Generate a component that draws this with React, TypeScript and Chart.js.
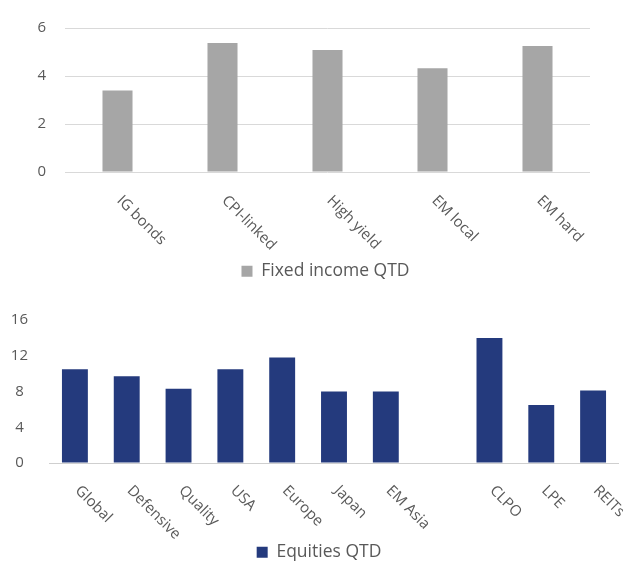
import React, { useEffect, useRef } from 'react';
import { Chart, registerables } from 'chart.js';

Chart.register(...registerables);

const fixedIncomeLabels = ['IG bonds', 'CPI-linked', 'High yield', 'EM local', 'EM hard'];
const fixedIncomeValues = [3.4, 5.37, 5.08, 4.32, 5.25];
const fixedIncomeTicks = [0, 2, 4, 6];
const fixedIncomeSeries = 'Fixed income QTD';

const equityLabels = ['Global', 'Defensive', 'Quality', 'USA', 'Europe', 'Japan', 'EM Asia', '', 'CLPO', 'LPE', 'REITs'];
const equityValues: (number | null)[] = [10.5, 9.7, 8.3, 10.5, 11.8, 8.0, 8.0, null, 14.0, 6.5, 8.1];
const equityTicks = [0, 4, 8, 12, 16];
const equitySeries = 'Equities QTD';

const FONT = '"Open Sans", "Noto Sans", sans-serif';
const TEXT = '#595959';

function rotatedLabels(labels: string[], dx: number, dy: number) {
  return {
    id: 'rotatedLabels',
    afterDraw(chart: any) {
      const { ctx, chartArea, scales } = chart;
      const xs = scales.x;
      ctx.save();
      ctx.font = `15px ${FONT}`;
      ctx.fillStyle = TEXT;
      ctx.textAlign = 'left';
      ctx.textBaseline = 'top';
      labels.forEach((lab, i) => {
        if (!lab) return;
        const px = xs.getPixelForValue(i);
        ctx.save();
        ctx.translate(px + dx, chartArea.bottom + dy);
        ctx.rotate(Math.PI / 4);
        ctx.fillText(lab, 0, 0);
        ctx.restore();
      });
      ctx.restore();
    },
  };
}

function legendShift(center: number) {
  return {
    id: 'legendShift',
    afterLayout(chart: any) {
      const l = chart.legend;
      if (!l) return;
      const d = center - (l.left + l.right) / 2;
      l.left += d;
      l.right += d;
    },
  };
}

interface Cfg {
  labels: string[];
  values: (number | null)[];
  ticks: number[];
  series: string;
  color: string;
  barPct: number;
  pad: { left: number; right: number; top: number; bottom: number };
  yWidth: number;
  xHeight: number;
  tickPad: number;
  allGrid: boolean;
}

function makeConfig(c: Cfg): any {
  return {
    type: 'bar',
    data: {
      labels: c.labels,
      datasets: [
        {
          label: c.series,
          data: c.values,
          backgroundColor: c.color,
          borderWidth: 0,
          barPercentage: c.barPct,
          categoryPercentage: 1,
        },
      ],
    },
    options: {
      responsive: false,
      animation: false,
      layout: { padding: c.pad },
      plugins: {
        legend: {
          position: 'bottom',
          labels: {
            boxWidth: 11,
            boxHeight: 11,
            padding: 10,
            color: TEXT,
            font: { family: FONT, size: 17.5 },
          },
        },
        tooltip: { enabled: false },
      },
      scales: {
        x: {
          grid: { display: false },
          border: { display: false },
          ticks: { display: false },
          afterFit: (s: any) => {
            s.height = c.xHeight;
          },
        },
        y: {
          min: c.ticks[0],
          max: c.ticks[c.ticks.length - 1],
          border: { display: false },
          grid: {
            drawTicks: false,
            lineWidth: 1,
            color: (ctx: any) =>
              c.allGrid ? '#D9D9D9' : ctx.tick && ctx.tick.value === 0 ? '#CFCFCF' : 'rgba(0,0,0,0)',
          },
          ticks: {
            stepSize: c.ticks[1] - c.ticks[0],
            padding: c.tickPad,
            crossAlign: 'center',
            color: TEXT,
            font: { family: FONT, size: 15 },
          },
          afterFit: (s: any) => {
            s.width = c.yWidth;
          },
        },
      },
    },
  };
}

function BarChart(props: {
  cfg: Cfg;
  width: number;
  height: number;
  top: number;
  dx: number;
  dy: number;
  legendCenter: number;
}) {
  const ref = useRef<HTMLCanvasElement | null>(null);
  useEffect(() => {
    if (!ref.current) return;
    const config = makeConfig(props.cfg);
    config.plugins = [rotatedLabels(props.cfg.labels, props.dx, props.dy), legendShift(props.legendCenter)];
    const chart = new Chart(ref.current, config);
    return () => chart.destroy();
  }, []);
  return (
    <canvas
      ref={ref}
      width={props.width}
      height={props.height}
      style={{ position: 'absolute', left: 0, top: props.top, width: props.width, height: props.height }}
    />
  );
}

export default function App() {
  const topCfg: Cfg = {
    labels: fixedIncomeLabels,
    values: fixedIncomeValues,
    ticks: fixedIncomeTicks,
    series: fixedIncomeSeries,
    color: '#A6A6A6',
    barPct: 0.286,
    pad: { left: 0, right: 33, top: 22, bottom: 0 },
    yWidth: 65,
    xHeight: 80.5,
    tickPad: 19,
    allGrid: true,
  };
  const botCfg: Cfg = {
    labels: equityLabels,
    values: equityValues,
    ticks: equityTicks,
    series: equitySeries,
    color: '#243A7D',
    barPct: 0.5,
    pad: { left: 0, right: 4, top: 25, bottom: 0 },
    yWidth: 49,
    xHeight: 70.5,
    tickPad: 21,
    allGrid: false,
  };
  return (
    <div
      style={{
        position: 'absolute',
        left: 0,
        top: 0,
        width: 623,
        height: 561,
        overflow: 'hidden',
        background: '#ffffff',
      }}
    >
      <BarChart cfg={topCfg} width={623} height={290} top={0} dx={7} dy={21} legendCenter={325.5} />
      <BarChart cfg={botCfg} width={623} height={281} top={290} dx={8} dy={20} legendCenter={319} />
    </div>
  );
}
